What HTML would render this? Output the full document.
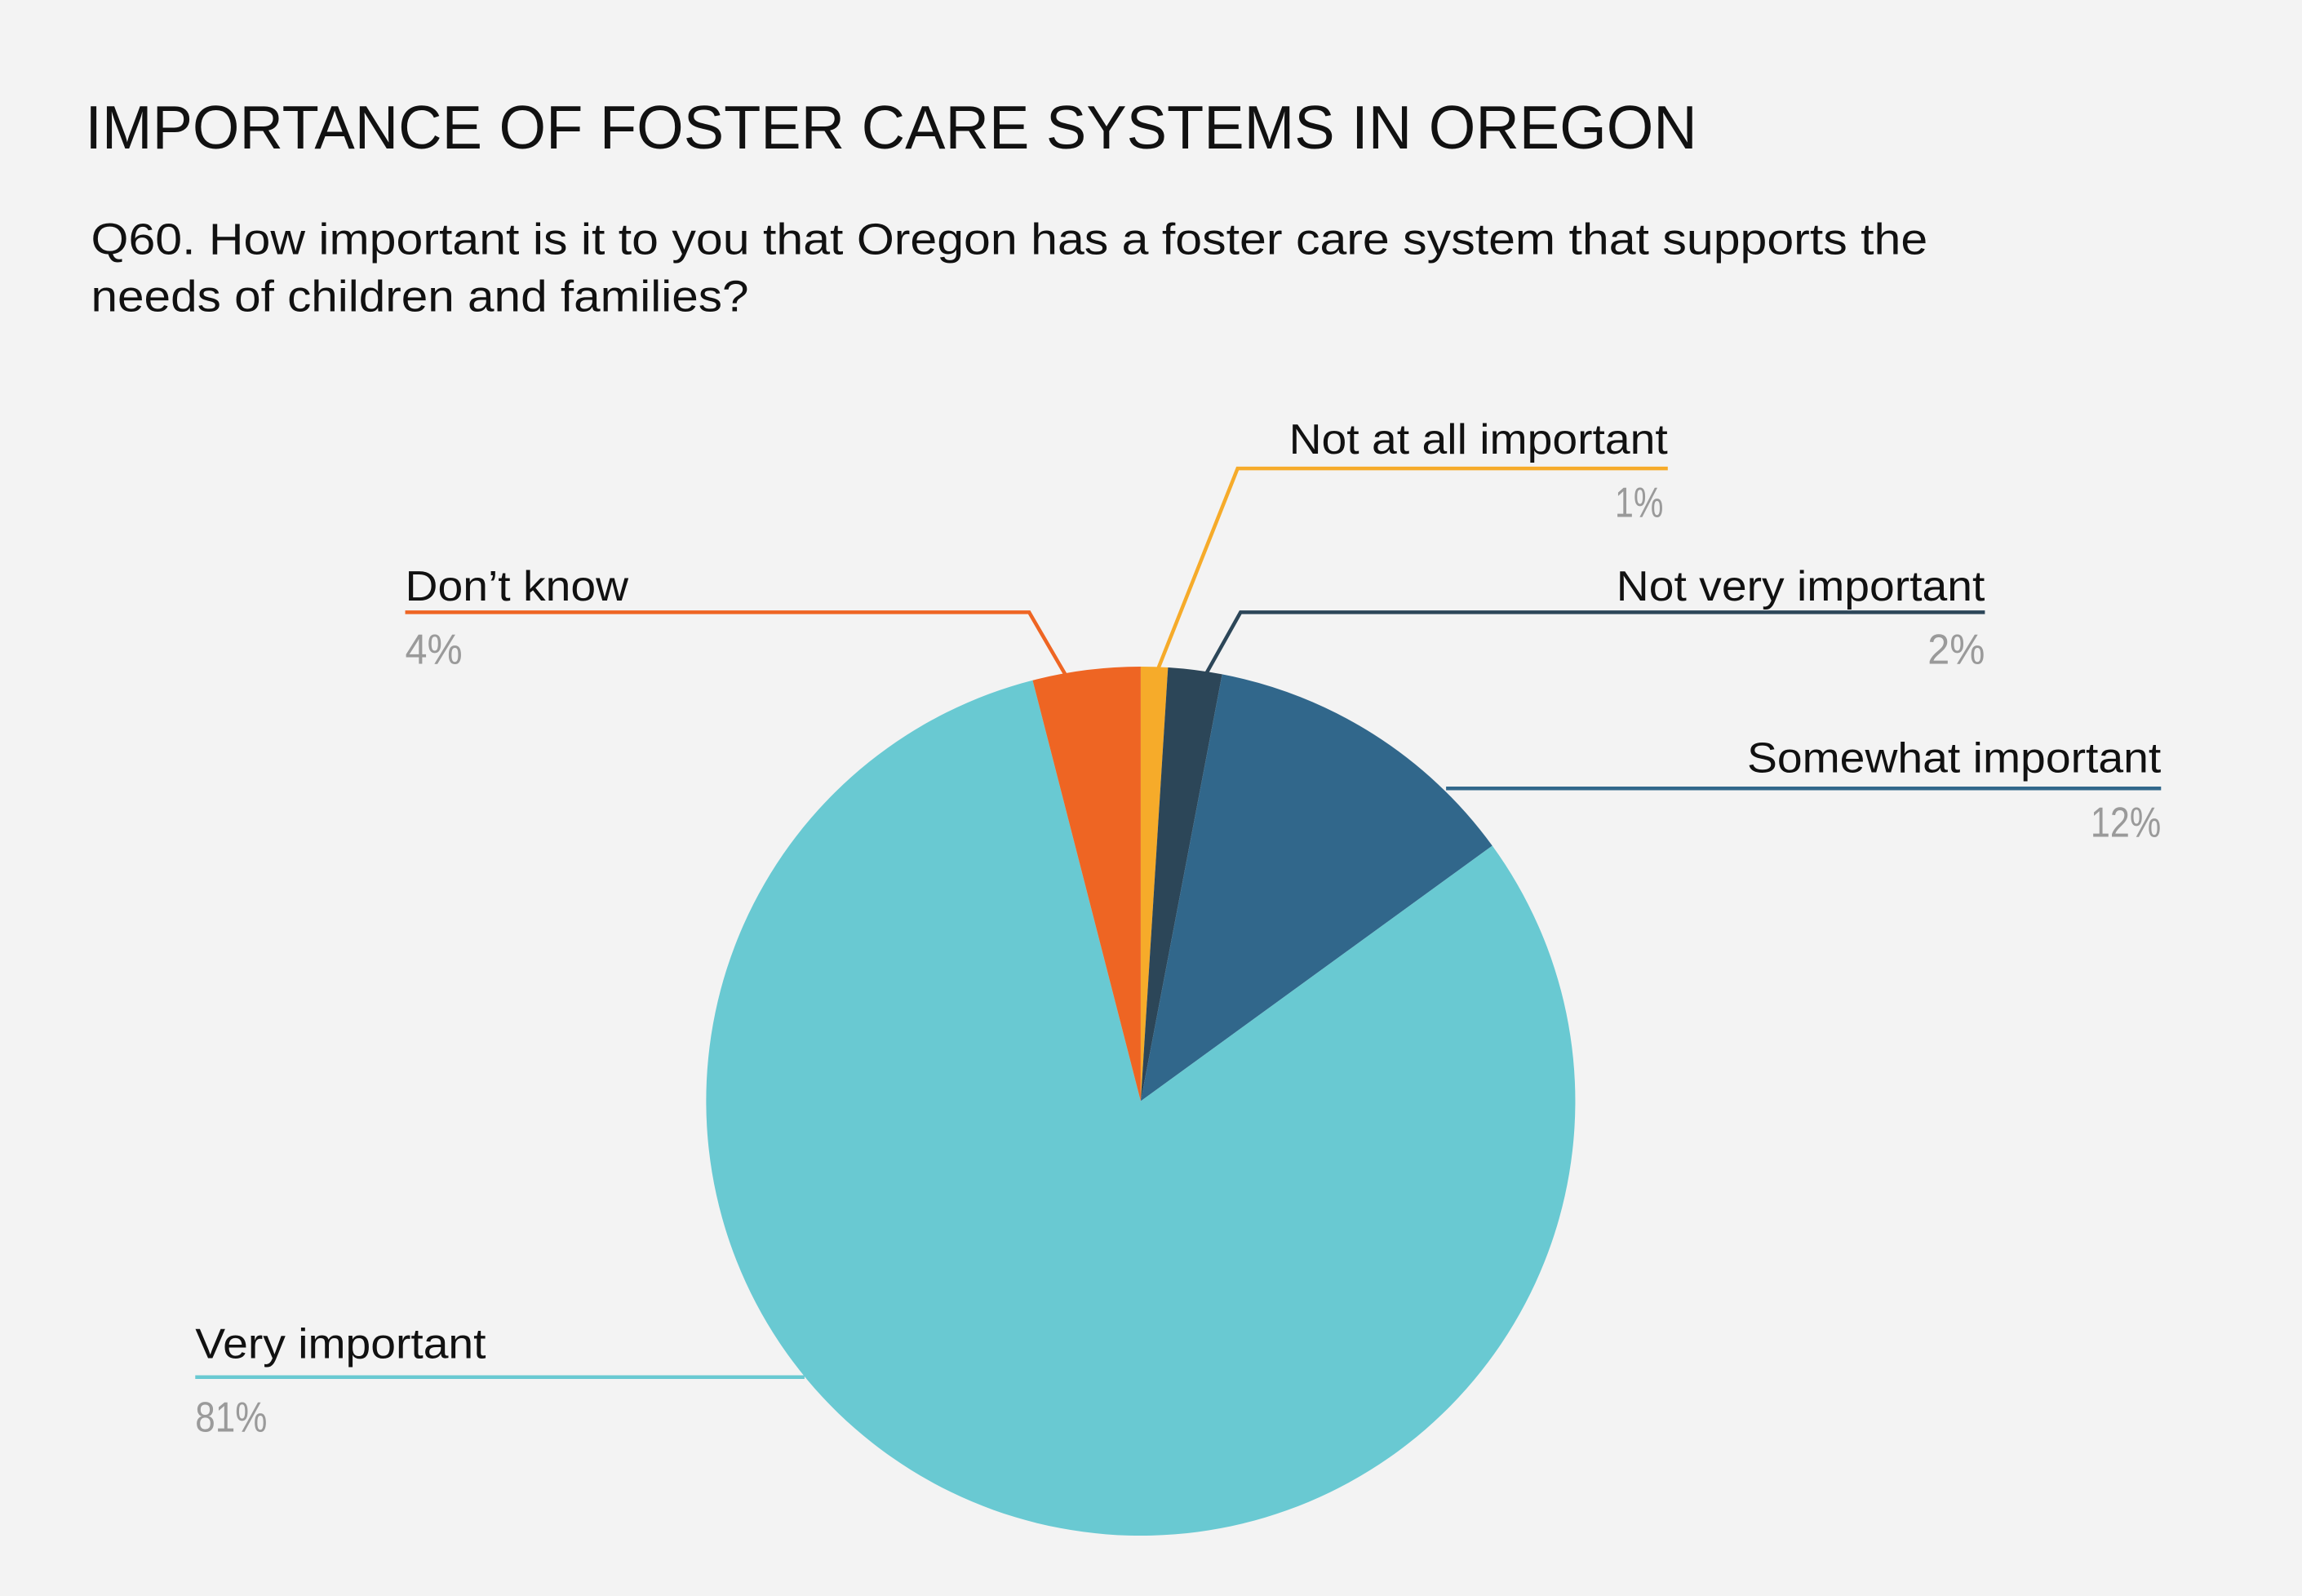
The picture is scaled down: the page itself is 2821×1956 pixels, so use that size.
<!DOCTYPE html>
<html><head><meta charset="utf-8"><style>
html,body{margin:0;padding:0;background:#f3f3f3;}
svg{display:block;}
text{font-family:"Liberation Sans",sans-serif;}
</style></head><body>
<svg width="2821" height="1956" viewBox="0 0 1568 1087" xmlns="http://www.w3.org/2000/svg">
<rect width="1568" height="1087" fill="#f3f3f3"/>
<text x="58" y="101" font-size="42" fill="#111" textLength="1098" lengthAdjust="spacingAndGlyphs">IMPORTANCE OF FOSTER CARE SYSTEMS IN OREGON</text>
<text x="62" y="173" font-size="30" fill="#111" textLength="1251" lengthAdjust="spacingAndGlyphs">Q60. How important is it to you that Oregon has a foster care system that supports the</text>
<text x="62" y="212" font-size="30" fill="#111" textLength="448" lengthAdjust="spacingAndGlyphs">needs of children and families?</text>

<g transform="translate(777,750)">
<path d="M0,0 L0,-296 A296,296 0 0 1 18.58,-295.42 Z" fill="#f6ab2a"/>
<path d="M0,0 L18.58,-295.42 A296,296 0 0 1 55.46,-290.76 Z" fill="#2c4658"/>
<path d="M0,0 L55.46,-290.76 A296,296 0 0 1 239.47,-173.98 Z" fill="#31678b"/>
<path d="M0,0 L239.47,-173.98 A296,296 0 1 1 -73.62,-286.70 Z" fill="#69c9d2"/>
<path d="M0,0 L-73.62,-286.70 A296,296 0 0 1 0,-296 Z" fill="#ee6523"/>
</g>

<g fill="none" stroke-width="2.5">
<polyline points="789,455 843,319 1136,319" stroke="#f6ab2a"/>
<polyline points="822,458 845,417 1352,417" stroke="#2c4658"/>
<polyline points="985,537 1472,537" stroke="#31678b"/>
<polyline points="726,460 701,417 276,417" stroke="#ee6523"/>
<polyline points="548,938 133,938" stroke="#69c9d2"/>
</g>

<g font-size="29" fill="#111">
<text x="1136" y="309" text-anchor="end" textLength="258" lengthAdjust="spacingAndGlyphs">Not at all important</text>
<text x="1352" y="409" text-anchor="end" textLength="251" lengthAdjust="spacingAndGlyphs">Not very important</text>
<text x="1472" y="526" text-anchor="end" textLength="282" lengthAdjust="spacingAndGlyphs">Somewhat important</text>
<text x="276" y="409" textLength="152" lengthAdjust="spacingAndGlyphs">Don’t know</text>
<text x="133" y="925" textLength="198" lengthAdjust="spacingAndGlyphs">Very important</text>
</g>
<g font-size="29" fill="#9a9a9a">
<text x="1100" y="352" textLength="33" lengthAdjust="spacingAndGlyphs">1%</text>
<text x="1313" y="452" textLength="39" lengthAdjust="spacingAndGlyphs">2%</text>
<text x="1424" y="570" textLength="48" lengthAdjust="spacingAndGlyphs">12%</text>
<text x="276" y="452" textLength="39" lengthAdjust="spacingAndGlyphs">4%</text>
<text x="133" y="975" textLength="49" lengthAdjust="spacingAndGlyphs">81%</text>
</g>
</svg>
</body></html>
